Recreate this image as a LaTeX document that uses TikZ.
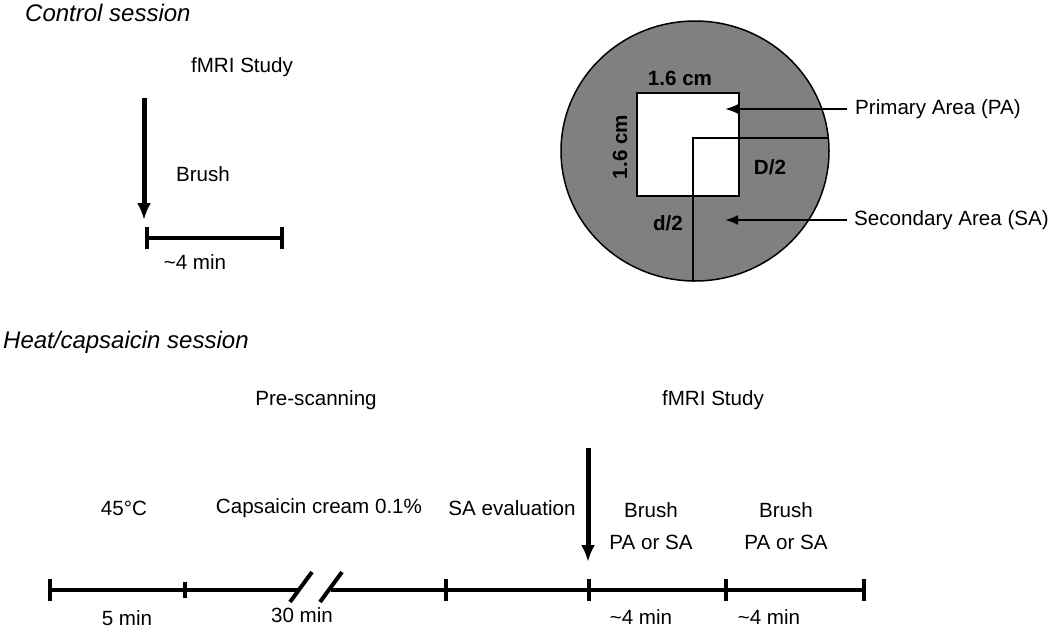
\documentclass[tikz,border=0pt]{standalone}
\usepackage{fontspec}
\setmainfont{Liberation Sans}
\usetikzlibrary{arrows.meta}
\definecolor{skin}{RGB}{128,128,128}
\tikzset{
  >={Latex[length=17pt,width=14pt]},
  x=1pt, y=-1pt,
}
\tikzstyle{every node}=[font=\fontsize{20.6}{24}\selectfont,inner sep=0pt]
\tikzstyle{title}=[font=\fontsize{24}{28}\selectfont\itshape,anchor=west]
\tikzstyle{twoline}=[align=center,font=\fontsize{20.6}{32}\selectfont]
\tikzstyle{dim}=[font=\fontsize{20.6}{24}\selectfont\bfseries]
\tikzstyle{bar}=[line width=4.5pt]
\tikzstyle{timetick}=[line width=4pt]
\tikzstyle{cue}=[line width=5pt,->]
\tikzstyle{outline}=[line width=1.5pt]
\tikzstyle{pointer}=[line width=2pt,-{Latex[length=13pt,width=10pt]}]

\begin{document}
\begin{tikzpicture}
    \useasboundingbox (0,0) rectangle (1050,629);
    % control session
    \node[title] (ctrl) at (25,13) {Control session};
    \node (fmri1) at (242,67) {fMRI Study};
    \node (brush1) at (203,174) {Brush};
    \coordinate (cue1s) at (144,98);
    \coordinate (cue1e) at (144,220);
    \draw[cue] (cue1s) -- (cue1e);
    \coordinate (c0) at (147,238);
    \coordinate (c1) at (282,238);
    \draw[bar] (c0) -- (c1);
    \foreach \p in {c0,c1}
      \draw[timetick] ([yshift=-11pt]\p) -- ([yshift=11pt]\p);
    \node (min1) at (195,262) {\textasciitilde4 min};
    % stimulated skin
    \draw[outline,fill=skin] (695,151) ellipse [x radius=134,y radius=130];
    \draw[outline,fill=white] (637,93) rectangle (739,196);
    \coordinate (ctr) at (693,138);
    \coordinate (rim) at (828.3,138);
    \coordinate (low) at (693,282);
    \draw[outline] (rim) -- (ctr) -- (low);
    \node[dim] (side1) at (680,78) {1.6 cm};
    \node[dim,rotate=90] (side2) at (620,147) {1.6 cm};
    \node[dim] (bigr) at (770,167) {D/2};
    \node[dim] (smallr) at (668,223) {d/2};
    \node[anchor=west] (pa) at (855,109) {Primary Area (PA)};
    \node[anchor=west] (sa) at (854,220) {Secondary Area (SA)};
    \coordinate (patip) at (725,109);
    \coordinate (satip) at (725,220);
    \draw[pointer] ([xshift=-8pt]pa.west) -- (patip);
    \draw[pointer] ([xshift=-7pt]sa.west) -- (satip);
    % heat/capsaicin session
    \node[title] (heat) at (3,342) {Heat/capsaicin session};
    \node (pre) at (316,400) {Pre-scanning};
    \node (fmri2) at (713,400) {fMRI Study};
    \node (hot) at (124,508) {45\textdegree C};
    \node (caps) at (319,508) {Capsaicin cream 0.1\%};
    \node (saeval) at (512,508) {SA evaluation};
    \node[twoline] (brush2) at (651,526) {Brush\\PA or SA};
    \node[twoline] (brush3) at (786,526) {Brush\\PA or SA};
    \coordinate (cue2s) at (588,448);
    \coordinate (cue2e) at (588,562);
    \draw[cue] (cue2s) -- (cue2e);
    \foreach \n/\x in {t0/50,t1/185,t2/446,t3/589,t4/726,t5/864}
      \coordinate (\n) at (\x,590);
    \coordinate (b1) at (298,590);
    \coordinate (b2) at (331,590);
    \draw[bar] (t0) -- (b1);
    \draw[bar] (b2) -- (t5);
    \draw[timetick] (290,602) -- (312,572);
    \draw[timetick] (320,602) -- (342,572);
    \foreach \p in {t0,t2,t3,t4,t5}
      \draw[timetick] ([yshift=-11pt]\p) -- ([yshift=11pt]\p);
    \draw[timetick] ([yshift=-8pt]t1) -- ([yshift=8pt]t1);
    \node (min5) at (127,618) {5 min};
    \node (min30) at (302,615) {30 min};
    \node (min2) at (641,617) {\textasciitilde4 min};
    \node (min3) at (769,617) {\textasciitilde4 min};
  \end{tikzpicture}
\end{document}
